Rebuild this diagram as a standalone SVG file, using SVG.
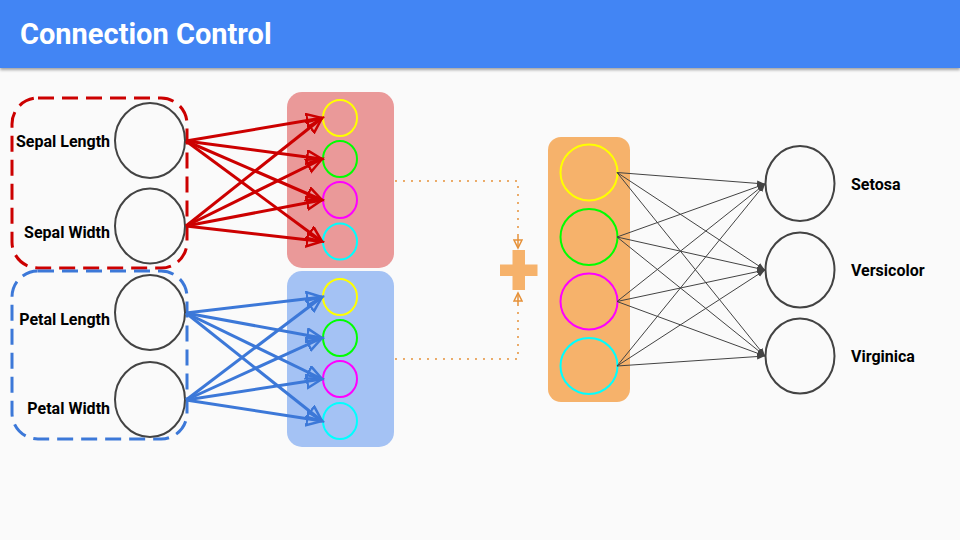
<svg xmlns="http://www.w3.org/2000/svg" width="960" height="540" viewBox="0 0 960 540">
<defs>
<filter id="sh" x="-5%" y="-20%" width="110%" height="160%"><feDropShadow dx="0" dy="2" stdDeviation="1.5" flood-color="#000" flood-opacity="0.35"/></filter>
<marker id="ar" markerUnits="userSpaceOnUse" markerWidth="19" markerHeight="16" refX="16" refY="7.5" orient="auto" viewBox="0 0 19 16"><path d="M1,1 L16,7.5 L1,14 z" fill="none" stroke="#cc0000" stroke-width="2.5"/></marker>
<marker id="ab" markerUnits="userSpaceOnUse" markerWidth="19" markerHeight="16" refX="16" refY="7.5" orient="auto" viewBox="0 0 19 16"><path d="M1,1 L16,7.5 L1,14 z" fill="none" stroke="#3c78d8" stroke-width="2.5"/></marker>
<marker id="ag" markerUnits="userSpaceOnUse" markerWidth="10" markerHeight="8" refX="8" refY="4" orient="auto" viewBox="0 0 10 8"><path d="M0,1 L8,4 L0,7 z" fill="#434343"/></marker>
<marker id="ao" markerUnits="userSpaceOnUse" markerWidth="12" markerHeight="10" refX="9" refY="5" orient="auto" viewBox="0 0 12 10"><path d="M1,1 L9,5 L1,9 z" fill="none" stroke="#e69138" stroke-width="1.5"/></marker>
</defs>
<style>
.t{font-family:Roboto,"Liberation Sans",sans-serif;font-weight:bold;fill:#000;font-size:16px}
.nd{fill:none;stroke:#434343;stroke-width:2}
.r{stroke:#cc0000;stroke-width:3;fill:none;marker-end:url(#ar)}
.b{stroke:#3c78d8;stroke-width:3;fill:none;marker-end:url(#ab)}
.g{stroke:#434343;stroke-width:1;fill:none;marker-end:url(#ag)}
.o{stroke:#e69138;stroke-width:2;fill:none;stroke-linecap:round;stroke-dasharray:0 8}
.sc{stroke-width:2}
</style>
<rect width="960" height="540" fill="#fafafa"/>
<g id="header">
<rect x="0" y="0" width="960" height="68" fill="#4285f4" filter="url(#sh)"/>
<text x="20" y="44" font-family="Roboto,'Liberation Sans',sans-serif" font-weight="bold" font-size="29" fill="#fff">Connection Control</text>
</g>
<g id="sepal-group">
<rect x="12" y="98" width="175" height="170" rx="26" fill="none" stroke="#cc0000" stroke-width="3" stroke-dasharray="16 8"/>
</g>
<g id="petal-group">
<rect x="12" y="271" width="175" height="168" rx="26" fill="none" stroke="#3c78d8" stroke-width="3" stroke-dasharray="16 8"/>
</g>
<g id="sepal-length"><ellipse cx="150" cy="140.5" rx="35" ry="37.5" class="nd"/><text class="t" x="110" y="147" text-anchor="end">Sepal Length</text></g>
<g id="sepal-width"><ellipse cx="150" cy="226" rx="35" ry="37.5" class="nd"/><text class="t" x="110" y="237.5" text-anchor="end">Sepal Width</text></g>
<g id="petal-length"><ellipse cx="150" cy="312.5" rx="35" ry="37.5" class="nd"/><text class="t" x="110" y="325" text-anchor="end">Petal Length</text></g>
<g id="petal-width"><ellipse cx="150" cy="399.5" rx="35" ry="37.5" class="nd"/><text class="t" x="110" y="413.5" text-anchor="end">Petal Width</text></g>
<g id="hidden-red">
<rect x="287" y="92" width="107" height="176" rx="15" fill="#ea9999"/>
<ellipse cx="340" cy="118" rx="17" ry="18" fill="none" stroke="#ffff00" class="sc"/>
<ellipse cx="340" cy="159" rx="17" ry="18" fill="none" stroke="#00ff00" class="sc"/>
<ellipse cx="340" cy="200" rx="17" ry="18" fill="none" stroke="#ff00ff" class="sc"/>
<ellipse cx="340" cy="241.5" rx="17" ry="18" fill="none" stroke="#00ffff" class="sc"/>
</g>
<g id="hidden-blue">
<rect x="287" y="271" width="107" height="176" rx="15" fill="#a4c2f4"/>
<ellipse cx="340" cy="297" rx="17" ry="18" fill="none" stroke="#ffff00" class="sc"/>
<ellipse cx="340" cy="338" rx="17" ry="18" fill="none" stroke="#00ff00" class="sc"/>
<ellipse cx="340" cy="379" rx="17" ry="18" fill="none" stroke="#ff00ff" class="sc"/>
<ellipse cx="340" cy="421" rx="17" ry="18" fill="none" stroke="#00ffff" class="sc"/>
</g>
<g id="plus"><path d="M512.5,250 h12.5 v14.5 h12.5 v11.5 h-12.5 v14 h-12.5 v-14 h-12.5 v-11.5 h12.5 z" fill="#f6b26b"/></g>
<g id="hidden-orange">
<rect x="548" y="137" width="82" height="265" rx="13" fill="#f6b26b"/>
<ellipse cx="589" cy="172.5" rx="28.5" ry="28" fill="none" stroke="#ffff00" class="sc"/>
<ellipse cx="589" cy="237" rx="28.5" ry="28" fill="none" stroke="#00ff00" class="sc"/>
<ellipse cx="589" cy="301.5" rx="28.5" ry="28" fill="none" stroke="#ff00ff" class="sc"/>
<ellipse cx="589" cy="366" rx="28.5" ry="28" fill="none" stroke="#00ffff" class="sc"/>
</g>
<g id="setosa"><ellipse cx="800" cy="183.5" rx="34.5" ry="37.5" class="nd"/><text class="t" x="851" y="189.5">Setosa</text></g>
<g id="versicolor"><ellipse cx="800" cy="270" rx="34.5" ry="37.5" class="nd"/><text class="t" x="851" y="276">Versicolor</text></g>
<g id="virginica"><ellipse cx="800" cy="356" rx="34.5" ry="37.5" class="nd"/><text class="t" x="851" y="362">Virginica</text></g>
<g id="connectors">
<line class="r" x1="186" y1="141" x2="322" y2="118"/>
<line class="r" x1="186" y1="141" x2="322" y2="159"/>
<line class="r" x1="186" y1="141" x2="322" y2="200"/>
<line class="r" x1="186" y1="141" x2="322" y2="241.5"/>
<line class="r" x1="186" y1="226" x2="322" y2="118"/>
<line class="r" x1="186" y1="226" x2="322" y2="159"/>
<line class="r" x1="186" y1="226" x2="322" y2="200"/>
<line class="r" x1="186" y1="226" x2="322" y2="241.5"/>
<line class="b" x1="186" y1="313" x2="322" y2="297"/>
<line class="b" x1="186" y1="313" x2="322" y2="338"/>
<line class="b" x1="186" y1="313" x2="322" y2="379"/>
<line class="b" x1="186" y1="313" x2="322" y2="421"/>
<line class="b" x1="186" y1="400" x2="322" y2="297"/>
<line class="b" x1="186" y1="400" x2="322" y2="338"/>
<line class="b" x1="186" y1="400" x2="322" y2="379"/>
<line class="b" x1="186" y1="400" x2="322" y2="421"/>
<line class="g" x1="617" y1="172.5" x2="765" y2="184"/>
<line class="g" x1="617" y1="172.5" x2="765" y2="270"/>
<line class="g" x1="617" y1="172.5" x2="765" y2="356"/>
<line class="g" x1="617" y1="237" x2="765" y2="184"/>
<line class="g" x1="617" y1="237" x2="765" y2="270"/>
<line class="g" x1="617" y1="237" x2="765" y2="356"/>
<line class="g" x1="617" y1="301.5" x2="765" y2="184"/>
<line class="g" x1="617" y1="301.5" x2="765" y2="270"/>
<line class="g" x1="617" y1="301.5" x2="765" y2="356"/>
<line class="g" x1="617" y1="366" x2="765" y2="184"/>
<line class="g" x1="617" y1="366" x2="765" y2="270"/>
<line class="g" x1="617" y1="366" x2="765" y2="356"/>
<path class="o" d="M396,181 H518 V240"/>
<path d="M518,236 V248" stroke="#e69138" stroke-width="1.5" fill="none" marker-end="url(#ao)"/>
<path class="o" d="M396,359 H518 V300"/>
<path d="M518,304 V293" stroke="#e69138" stroke-width="1.5" fill="none" marker-end="url(#ao)"/>
</g>
</svg>
